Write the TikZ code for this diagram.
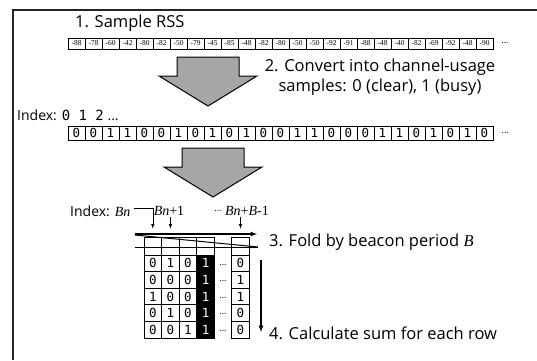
\documentclass[tikz,border=0pt]{standalone}
\usepackage{fontspec}
\setmainfont{Open Sans}
\newfontfamily\bitfont{DejaVu Sans Mono}
\newfontfamily\idxfont{Liberation Serif}
\usepackage{tikz}
\usetikzlibrary{arrows,positioning}

\tikzstyle{rss}     = [draw, line width=0.5pt, minimum width=17pt, minimum height=11pt, inner sep=0pt, font=\idxfont\fontsize{7.5}{7.5}\selectfont]
\tikzstyle{bit}     = [draw, line width=0.8pt, minimum width=17pt, minimum height=14pt, inner sep=0pt, font=\bitfont\fontsize{12.5}{12.5}\selectfont]
\tikzstyle{fold}    = [draw, line width=0.8pt, minimum width=17.6pt, minimum height=16.6pt, inner sep=0pt, font=\bitfont\fontsize{12.5}{12.5}\selectfont]
\tikzstyle{busy}    = [fold, fill=black, text=white]
\tikzstyle{caption} = [anchor=west, inner sep=0pt, font=\fontsize{16.5}{20}\selectfont]
\tikzstyle{bigarrow} = [draw=black, fill=black!35, line width=1pt, line join=miter]
\tikzstyle{tedge}   = [draw, line width=0.6pt, >=latex, ->]

\begin{document}
\begin{tikzpicture}[x=1pt, y=-1pt]
\useasboundingbox (0,0) rectangle (537,360);

% frame ==================================
\draw[line width=1.5pt, black!85] (537,10) -- (13,10) -- (13,360);

% step 1: raw samples
\node[caption] (s1) at (75,23) {1. Sample RSS};
\foreach \v [count=\i] in {-88,-78,-60,-42,-80,-82,-50,-79,-45,-85,-48,-82,-80,-50,-50,-92,-91,-88,-48,-40,-82,-69,-92,-48,-90}
  \node[rss] (r\i) at ({59.5+17*\i},43.5) {\v};
\node[right=8pt of r25, inner sep=0pt, font=\small] (rdots) {...};

% step 2: convert
\draw[bigarrow, shift={(208,57)}] (-31,0) -- (31,0) -- (31,19) -- (49,19) -- (0,49) -- (-49,19) -- (-31,19) -- cycle;
\node[caption, anchor=center, align=center] (s2) at (380,77) {2. Convert into channel-usage\\samples: 0 (clear), 1 (busy)};

\node[caption, font=\fontsize{14}{14}\selectfont] (idx) at (17,115) {Index: {\bitfont 0 1 2} ...};
\foreach \v [count=\i] in {0,0,1,1,0,0,1,0,1,0,1,0,0,1,1,0,0,0,1,1,0,1,0,1,0}
  \node[bit] (b\i) at ({59.5+17*\i},133) {\v};
\node[right=8pt of b25, inner sep=0pt, font=\small] (bdots) {...};

% step 3: fold
\draw[bigarrow, shift={(213,148)}] (-31,0) -- (31,0) -- (31,19) -- (49,19) -- (0,49) -- (-49,19) -- (-31,19) -- cycle;

% header cells
\foreach \i in {1,...,4}
  \node[fold, minimum height=18pt] (h\i) at ({135.2+17.6*\i},246) {};
\node[fold, minimum height=18pt] (hB) at (240.5,246) {};

% folded rows
\foreach \a/\b/\c/\z [count=\j] in {0/1/0/0, 0/0/0/1, 1/0/0/1, 0/1/0/0, 0/0/1/0} {
  \node[fold] (m\j a) at (152.8,{246.7+16.6*\j}) {\a};
  \node[fold] (m\j b) at (170.4,{246.7+16.6*\j}) {\b};
  \node[fold] (m\j c) at (188.0,{246.7+16.6*\j}) {\c};
  \node[busy] (m\j d) at (205.6,{246.7+16.6*\j}) {1};
  \node[fold] (m\j z) at (240.5,{246.7+16.6*\j}) {\z};
  \node[inner sep=0pt, font=\small] at (223,{248+16.6*\j}) {...};
}

% index labels
\node[anchor=west, inner sep=1pt, font=\fontsize{14}{14}\selectfont] (ib) at (69,211) {Index: {\idxfont\textit{Bn}}};
\node[inner sep=1pt, font=\idxfont\fontsize{14}{14}\selectfont] (ib1) at (169,211) {\textit{Bn}+1};
\node[inner sep=1pt, font=\small] (idots) at (218,211) {...};
\node[inner sep=1pt, font=\idxfont\fontsize{14}{14}\selectfont] (ibB) at (247,211) {\textit{Bn}+\textit{B}-1};

\draw[tedge] ([xshift=2pt, yshift=3pt]ib.east) -| ([yshift=8pt]h1.north);
\draw[tedge] (ib1.south -| h2.north) -- ([yshift=8pt]h2.north);
\draw[tedge] (ibB.south -| hB.north) -- ([yshift=8pt]hB.north);

% fold marker
\coordinate (fa) at (135,234);
\coordinate (fb) at (257,234);
\coordinate (fc) at (258,247);
\coordinate (fd) at (135,247);
\draw[line width=1.2pt, >=latex, ->] (fa) -- (fb);
\draw[line width=1pt] ([yshift=-1pt]fa) -- (fc);
\draw[line width=1pt] (fd) -- (fd -| fc);
\node[caption] (s3) at (269,242) {3. Fold by beacon period {\idxfont\textit{B}}};

% step 4: sum
\coordinate (va) at (261,260);
\coordinate (vb) at (261,332);
\draw[line width=1.2pt, >=latex, ->] (va) -- (vb);
\node[caption] (s4) at (269,333) {4. Calculate sum for each row};

\end{tikzpicture}
\end{document}
